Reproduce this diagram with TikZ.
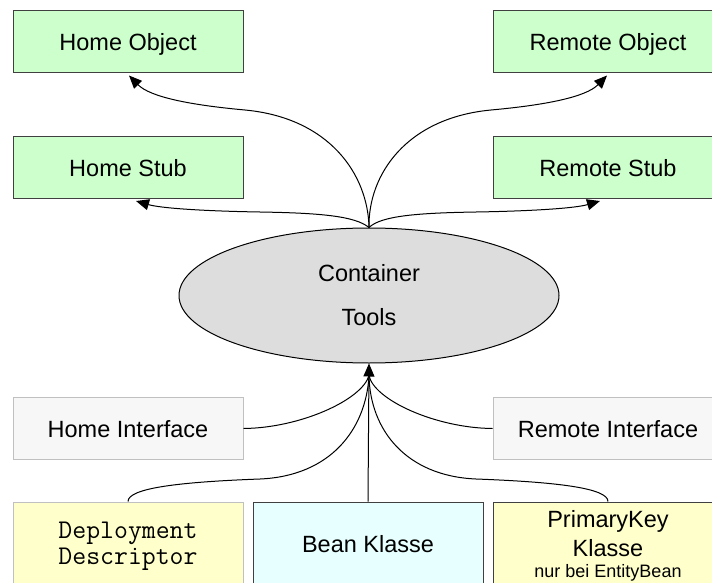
\documentclass[tikz,border=0pt]{standalone}
\usepackage{fontspec}
\setmainfont{Liberation Sans}
\usetikzlibrary{shapes.geometric,arrows.meta}

\definecolor{objgreen}{HTML}{CCFFCC}
\definecolor{toolgray}{HTML}{DDDDDD}
\definecolor{ifacefill}{HTML}{F7F7F7}
\definecolor{ifaceline}{HTML}{C0C0C0}
\definecolor{noteyellow}{HTML}{FFFFCC}
\definecolor{beancyan}{HTML}{E8FFFF}
\definecolor{darkline}{HTML}{404040}

\tikzset{
  box/.style={rectangle, minimum width=230pt, minimum height=62pt, inner sep=0pt,
    line width=1pt, text height=18pt, text depth=0pt,
    font=\fontsize{23.5}{28}\selectfont},
  objbox/.style={box, draw=darkline, fill=objgreen},
  ifacebox/.style={box, draw=ifaceline, fill=ifacefill},
  srcbox/.style={rectangle, minimum width=230pt, minimum height=100pt, inner sep=0pt,
    line width=1pt},
  label/.style={anchor=base, inner sep=0pt, font=\fontsize{23.5}{28}\selectfont},
  codelabel/.style={anchor=base, inner sep=0pt, font=\ttfamily\fontsize{27}{30}\selectfont},
  smalllabel/.style={anchor=base, inner sep=0pt, font=\fontsize{18}{22}\selectfont},
  conn/.style={draw=black, line width=1pt},
  tip/.style={-{Triangle[length=13pt,width=11pt]}}
}

\begin{document}
\begin{tikzpicture}[x=1pt,y=-1pt]
\useasboundingbox (0,0) rectangle (712,583);
\clip (0,0) rectangle (712,583);

% generated objects
\node[objbox] (homeobj)    at (128,42)    {Home Object};
\node[objbox] (remoteobj)  at (608,42)    {Remote Object};
\node[objbox] (homestub)   at (128,167.5) {Home Stub};
\node[objbox] (remotestub) at (608,167.5) {Remote Stub};

% container tools
\node[ellipse, draw=black, fill=toolgray, line width=1pt, minimum width=380pt,
      minimum height=135pt, inner sep=0pt, align=center,
      font=\fontsize{23.5}{44}\selectfont] (tools) at (369,295.5) {Container\\Tools};

% interfaces
\node[ifacebox] (homeif)   at (128,428.5) {Home Interface};
\node[ifacebox] (remoteif) at (608,428.5) {Remote Interface};

% sources
\node[srcbox, draw=ifaceline, fill=noteyellow] (deploy)  at (128,552) {};
\node[srcbox, draw=darkline,  fill=beancyan]   (bean)    at (368,552) {};
\node[srcbox, draw=darkline,  fill=noteyellow] (primkey) at (608,552) {};

\node[codelabel] (dep1) at (128,538) {Deployment};
\node[codelabel] (dep2) at (128,564) {Descriptor};
\node[label] (beantxt) at (368,552) {Bean Klasse};
\node[label] (pk1) at (608,527) {PrimaryKey};
\node[label] (pk2) at (608,556) {Klasse};
\node[smalllabel] (pk3) at (608,577) {nur bei EntityBean};

% outputs of the tools
\draw[conn,tip] (tools.north) .. controls (368,175) and (330,118) .. (245,110)
  .. controls (190,105) and (150,97) .. ([xshift=1pt,yshift=-2pt]homeobj.south);
\draw[conn,tip] (tools.north) .. controls (368,175) and (406,118) .. (491,110)
  .. controls (546,105) and (586,97) .. ([xshift=-1pt,yshift=-2pt]remoteobj.south);
\draw[conn,tip] (tools.north) .. controls (355,216) and (320,213) .. (260,212)
  .. controls (200,211) and (160,208) .. ([xshift=8pt,yshift=-2pt]homestub.south);
\draw[conn,tip] (tools.north) .. controls (381,216) and (416,213) .. (476,212)
  .. controls (536,211) and (576,208) .. ([xshift=-8pt,yshift=-2pt]remotestub.south);

% inputs of the tools
\coordinate (merge) at ([yshift=-12pt]tools.south);
\draw[conn] (homeif.east) .. controls (300,428) and (362,400) .. (merge);
\draw[conn] (remoteif.west) .. controls (436,428) and (374,400) .. (merge);
\draw[conn] (deploy.north) .. controls (128,488) and (180,482) .. (260,479)
  .. controls (330,476) and (366,430) .. (merge);
\draw[conn] (primkey.north) .. controls (608,488) and (556,482) .. (476,479)
  .. controls (406,476) and (370,430) .. (merge);
\draw[conn,tip] (bean.north) -- (tools.south);
\end{tikzpicture}
\end{document}
